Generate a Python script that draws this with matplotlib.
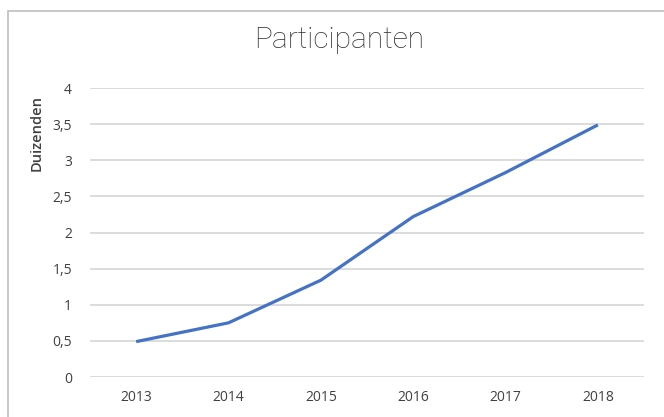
import matplotlib.pyplot as plt
from matplotlib.patches import Rectangle

# Gegevens
jaren = ["2013", "2014", "2015", "2016", "2017", "2018"]
deelnemers = [0.49, 0.75, 1.34, 2.22, 2.83, 3.49]
y_ticks = [0, 0.5, 1, 1.5, 2, 2.5, 3, 3.5, 4]
y_labels = ["0", "0,5", "1", "1,5", "2", "2,5", "3", "3,5", "4"]

plt.rcParams['font.family'] = ['Open Sans', 'DejaVu Sans']

fig = plt.figure(figsize=(6.64, 4.17), dpi=100)
ax = fig.add_axes([0.1355, 0.0959, 0.8345, 0.693])

# rand van het grafiekvak (rechts en onder afgesneden)
fig.patches.append(Rectangle((8 / 664, -0.1), 1.2, (417 - 11) / 417 + 0.1,
                             transform=fig.transFigure, fill=False,
                             edgecolor='#bfbfbf', linewidth=1.2))

x = range(len(jaren))
ax.plot(x, deelnemers, color='#4472C4', linewidth=2.3, solid_capstyle='butt')

ax.set_xlim(-0.5, len(jaren) - 0.5)
ax.set_ylim(0, 4)
ax.set_xticks(list(x))
ax.set_xticklabels(jaren)
ax.set_yticks(y_ticks)
ax.set_yticklabels(y_labels)

ax.grid(axis='y', color='#d9d9d9', linewidth=1.3)
ax.set_axisbelow(True)
for s in ax.spines.values():
    s.set_visible(False)
ax.tick_params(length=0, colors='#404040', labelsize=10)
ax.tick_params(axis='y', pad=13)
ax.tick_params(axis='x', pad=9)

ax.set_ylabel('Duizenden', fontsize=10.5, color='#404040',
              fontweight='semibold')
ax.yaxis.set_label_coords(-0.083, 0.845)
fig.text(339 / 664, 1 - 40 / 417, 'Participanten', ha='center', va='center',
         fontsize=21.5, color='#333333', family=['Roboto', 'DejaVu Sans'],
         fontweight='light')

fig.savefig('out.png', dpi=100)
